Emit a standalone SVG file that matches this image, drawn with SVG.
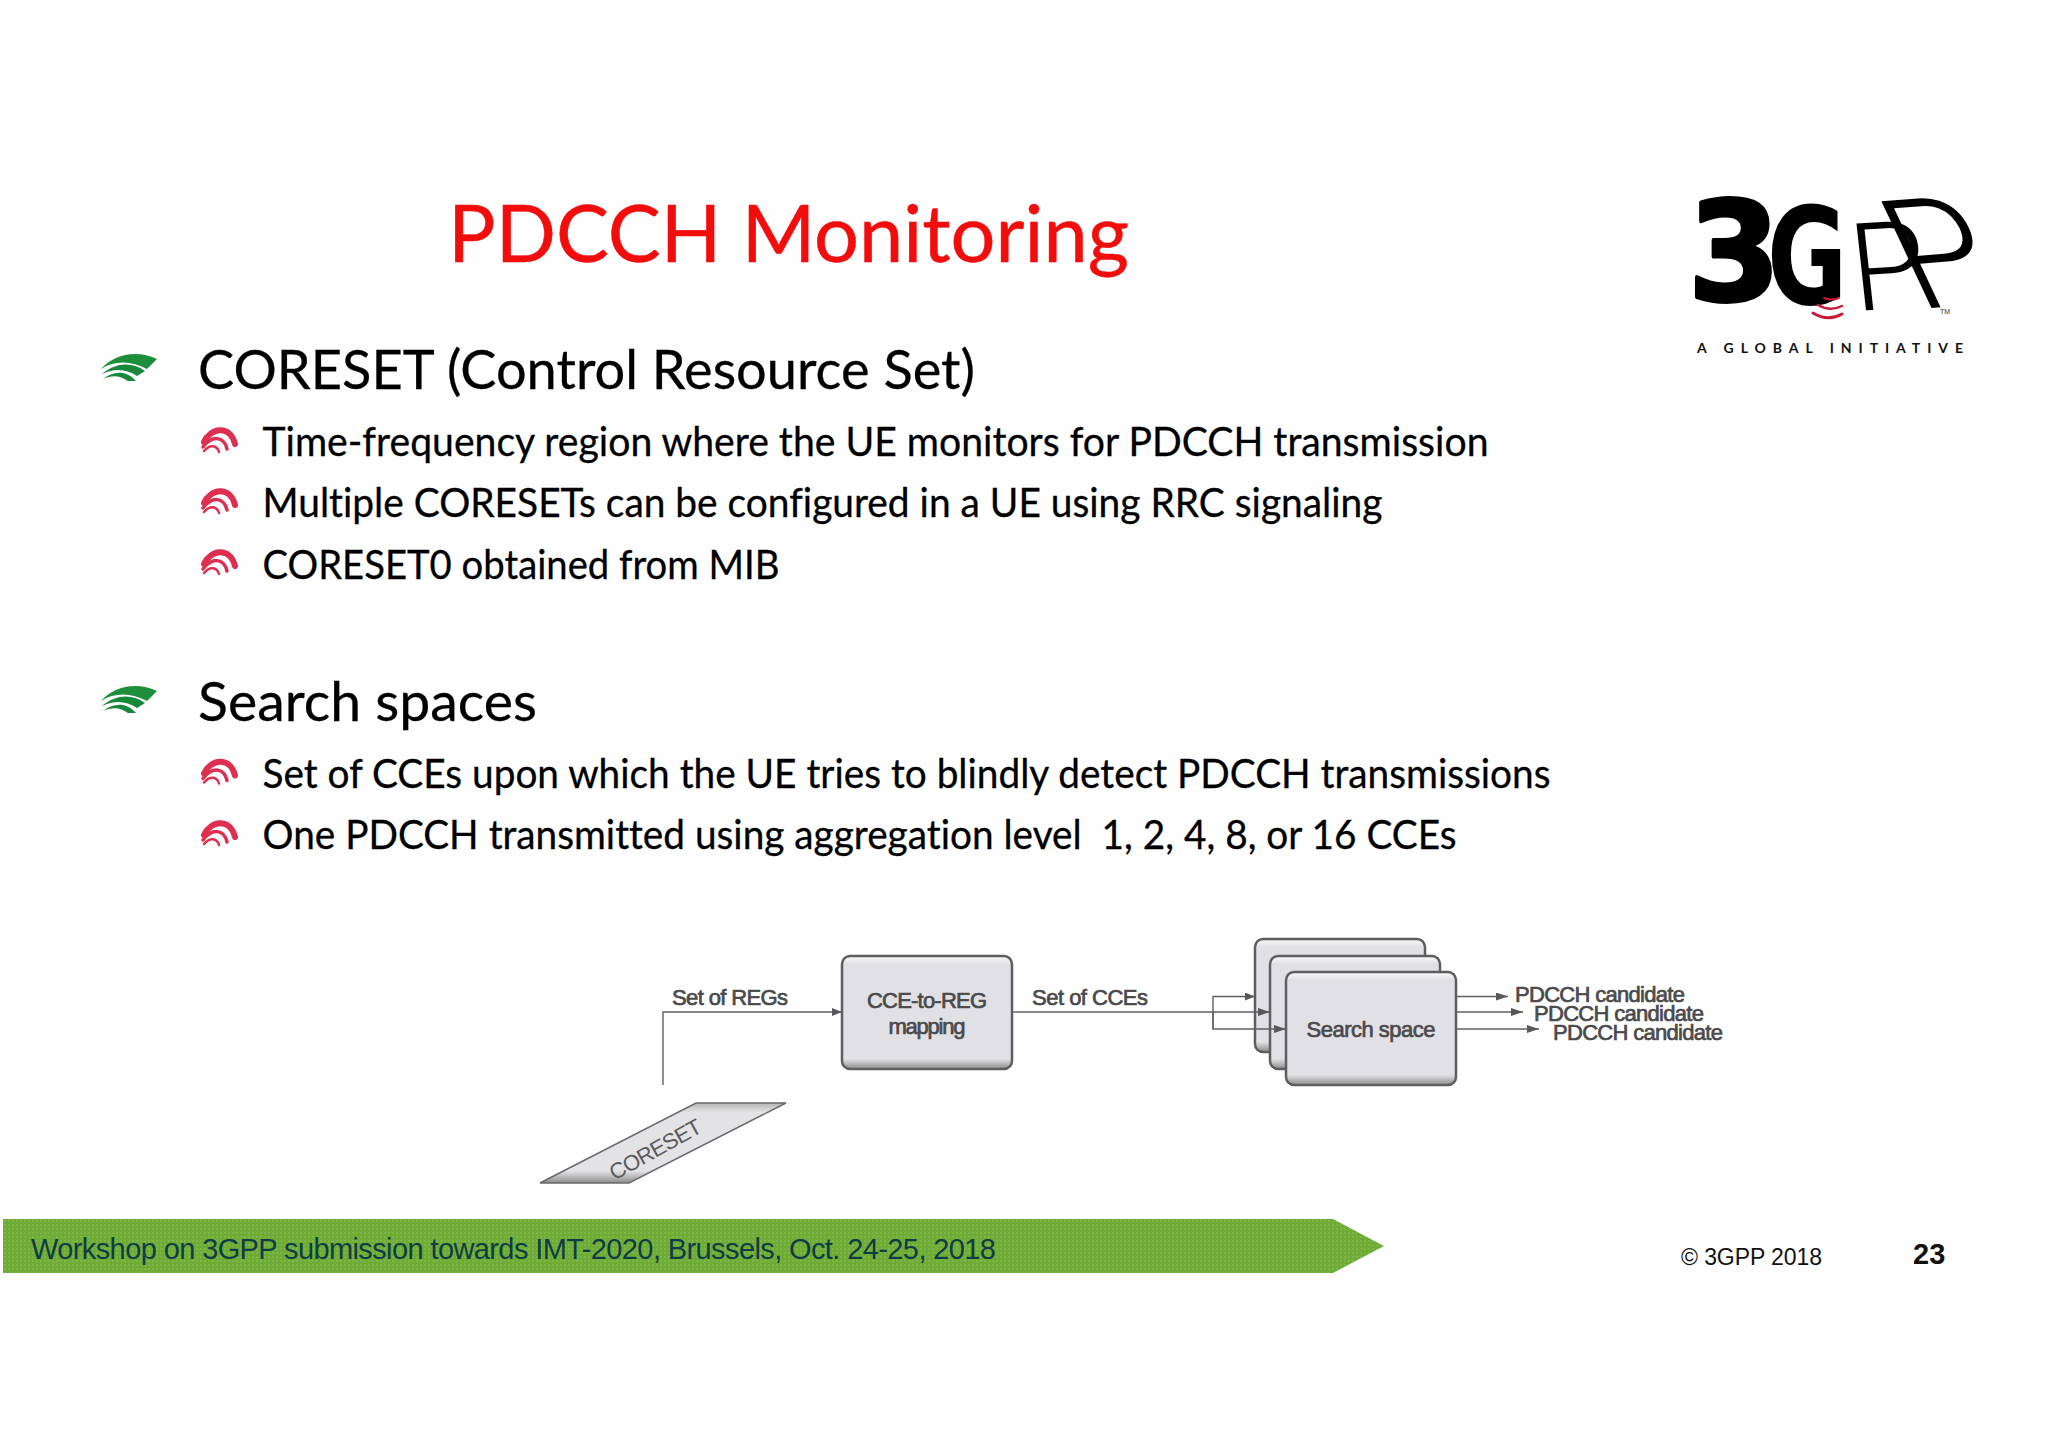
<svg xmlns="http://www.w3.org/2000/svg" width="2048" height="1447" viewBox="0 0 2048 1447">
<style>
text{font-variant-ligatures:none}
.h{font-family:Lato,"Liberation Sans",sans-serif;fill:#000;stroke:#000;stroke-width:.3px}
.h1{font-size:54px}
.h2{font-size:40px}
.d{font-family:"Liberation Sans",Arial,sans-serif;fill:#4a4a4c;font-size:22px;stroke:#4a4a4c;stroke-width:.7px}
.l{fill:none;stroke:#606062;stroke-width:1.4}
.box{fill:url(#bevel);stroke:#5e5e60;stroke-width:2.500}
</style>
<defs>
<linearGradient id="bevel" x1="0" y1="0" x2="0" y2="1">
<stop offset="0" stop-color="#fafafa"/><stop offset=".07" stop-color="#e1e1e5"/><stop offset=".91" stop-color="#e1e1e5"/><stop offset="1" stop-color="#8c8c8c"/>
</linearGradient>
<linearGradient id="para" x1="0" y1="0" x2="0" y2="1">
<stop offset="0" stop-color="#b5b5b5"/><stop offset=".12" stop-color="#e3e3e6"/><stop offset=".85" stop-color="#e3e3e6"/><stop offset="1" stop-color="#8c8c8c"/>
</linearGradient>
<pattern id="tex" width="4" height="4" patternUnits="userSpaceOnUse">
<rect width="4" height="4" fill="#6fac36"/><rect width="2" height="2" fill="#7db548"/>
</pattern>
<marker id="a" viewBox="0 0 10 8" refX="10" refY="4" markerWidth="10" markerHeight="8" markerUnits="userSpaceOnUse" orient="auto"><path d="M0 0L10 4L0 8Z" fill="#58585a"/></marker>
<marker id="b" viewBox="0 0 12 8" refX="12" refY="4" markerWidth="12" markerHeight="8" markerUnits="userSpaceOnUse" orient="auto"><path d="M0 0L12 4L0 8Z" fill="#58585a"/></marker>
<g id="green">
<path d="M101 369C113 355 136 349 157 359L147 369C132 361 115 360 101 369Z" fill="#1d8f3c"/>
<path d="M102 374C115 363 131 361 145 371L137 376C126 369 115 368 102 374Z" fill="#17873a"/>
<path d="M103 379C114 371 126 370 136 381L128 381C120 375 112 375 103 379Z" fill="#17873a"/>
</g>
<g id="red" fill="none" stroke="#df2f50" stroke-linecap="round">
<path d="M204 442C210 428 230 424 235 444" stroke-width="6"/>
<path d="M203 447C212 435 224 436 227 449" stroke-width="3.500"/>
<path d="M204 451C210 444 217 445 219 452" stroke-width="2.500"/>
</g>
</defs>
<rect width="2048" height="1447" fill="#fefefe"/>

<g id="title"><text x="448" y="262" font-family="Lato,sans-serif" font-size="80" fill="#f20d0d" stroke="#f20d0d" stroke-width=".5" textLength="681" lengthAdjust="spacingAndGlyphs">PDCCH Monitoring</text></g>

<g id="logo">
<text transform="translate(1688 300) scale(.95 .98)" font-family="DejaVu Sans,sans-serif" font-weight="700" font-size="140" fill="#000" stroke="#000" stroke-width="4" stroke-linejoin="round">3</text>
<text transform="translate(1767 304) scale(.72 1)" font-family="DejaVu Sans,sans-serif" font-weight="700" font-size="136" fill="#000">G</text>
<text transform="matrix(1 -.06 .11 1 1855 311)" font-family="Roboto,sans-serif" font-weight="300" font-size="122" fill="#000">P</text>
<text transform="matrix(1 -.08 .47 1 1918 309)" font-family="Roboto,sans-serif" font-weight="300" font-size="150" fill="#000">P</text>
<g fill="none" stroke="#c9183c" stroke-linecap="round"><path d="M1824 298Q1832 301 1839 298" stroke-width="2"/><path d="M1818 305Q1830 312 1842 306" stroke-width="2.500"/><path d="M1813 313Q1828 322 1842 314" stroke-width="3"/></g>
<text x="1940" y="314" font-family="Liberation Sans,sans-serif" font-size="7" fill="#333">TM</text>
<text x="1697" y="353" font-family="Lato,sans-serif" font-weight="700" font-size="14" fill="#111" textLength="266">A GLOBAL INITIATIVE</text>
</g>

<g id="bullets">
<use href="#green"/><use href="#green" y="332"/>
<use href="#red"/><use href="#red" y="61"/><use href="#red" y="122"/><use href="#red" y="331.500"/><use href="#red" y="393"/>
</g>

<g id="body">
<text class="h h1" x="198" y="389" textLength="777" lengthAdjust="spacingAndGlyphs">CORESET (Control Resource Set)</text>
<text class="h h2" x="262.500" y="456" textLength="1226" lengthAdjust="spacingAndGlyphs">Time-frequency region where the UE monitors for PDCCH transmission</text>
<text class="h h2" x="262.500" y="517" textLength="1120" lengthAdjust="spacingAndGlyphs">Multiple CORESETs can be configured in a UE using RRC signaling</text>
<text class="h h2" x="262.500" y="579" textLength="517" lengthAdjust="spacingAndGlyphs">CORESET0 obtained from MIB</text>
<text class="h h1" x="198" y="721" textLength="339" lengthAdjust="spacingAndGlyphs">Search spaces</text>
<text class="h h2" x="262.500" y="788" textLength="1288" lengthAdjust="spacingAndGlyphs">Set of CCEs upon which the UE tries to blindly detect PDCCH transmissions</text>
<text class="h h2" x="262.500" y="849" textLength="1194" lengthAdjust="spacingAndGlyphs" xml:space="preserve">One PDCCH transmitted using aggregation level  1, 2, 4, 8, or 16 CCEs</text>
</g>

<g id="coreset">
<path d="M696 1103H786L629 1183H540Z" fill="url(#para)" stroke="#6a6a6c" stroke-width="1.500"/>
<text transform="translate(659 1156) rotate(-29)" text-anchor="middle" font-family="Liberation Sans,sans-serif" font-size="22" fill="#5a5a5c" textLength="102">CORESET</text>
</g>

<g id="cce-to-reg">
<rect class="box" x="842" y="956" width="170" height="113" rx="8"/>
<text class="d" x="927" y="1008" text-anchor="middle" textLength="120">CCE-to-REG</text>
<text class="d" x="927" y="1034" text-anchor="middle" textLength="77">mapping</text>
</g>
<g id="search-space-3"><rect class="box" x="1255" y="939" width="170" height="113" rx="8"/></g>
<g id="search-space-2"><rect class="box" x="1270" y="956" width="170" height="113" rx="8"/></g>
<g id="search-space-1">
<rect class="box" x="1286" y="972" width="170" height="113" rx="8"/>
<text class="d" x="1371" y="1037" text-anchor="middle" textLength="129">Search space</text>
</g>

<g id="connectors">
<path class="l" d="M663 1085V1012H842" marker-end="url(#a)"/>
<path class="l" d="M1012 1012H1270" marker-end="url(#b)"/>
<path class="l" d="M1213 1029V996.500H1255" marker-end="url(#a)"/>
<path class="l" d="M1213 1012V1029H1286" marker-end="url(#b)"/>
<path class="l" d="M1456 996.500H1508" marker-end="url(#b)"/>
<path class="l" d="M1456 1012H1523" marker-end="url(#b)"/>
<path class="l" d="M1456 1029H1539" marker-end="url(#b)"/>
</g>

<g id="labels">
<text class="d" x="672" y="1005" textLength="116">Set of REGs</text>
<text class="d" x="1032" y="1005" textLength="116">Set of CCEs</text>
<text class="d" x="1515" y="1002" textLength="170">PDCCH candidate</text>
<text class="d" x="1534" y="1021" textLength="170">PDCCH candidate</text>
<text class="d" x="1553" y="1040" textLength="170">PDCCH candidate</text>
</g>

<g id="footer">
<path d="M3 1219H1333L1384 1246L1333 1273H3Z" fill="url(#tex)"/>
<text x="31" y="1259" font-family="Liberation Sans,sans-serif" font-size="29" fill="#0f3d45" textLength="965">Workshop on 3GPP submission towards IMT-2020, Brussels, Oct. 24-25, 2018</text>
<text x="1681" y="1265" font-family="Liberation Sans,sans-serif" font-size="23" fill="#111" textLength="141">© 3GPP 2018</text>
<text x="1913" y="1264" font-family="Liberation Sans,sans-serif" font-weight="700" font-size="29" fill="#111">23</text>
</g>
</svg>
